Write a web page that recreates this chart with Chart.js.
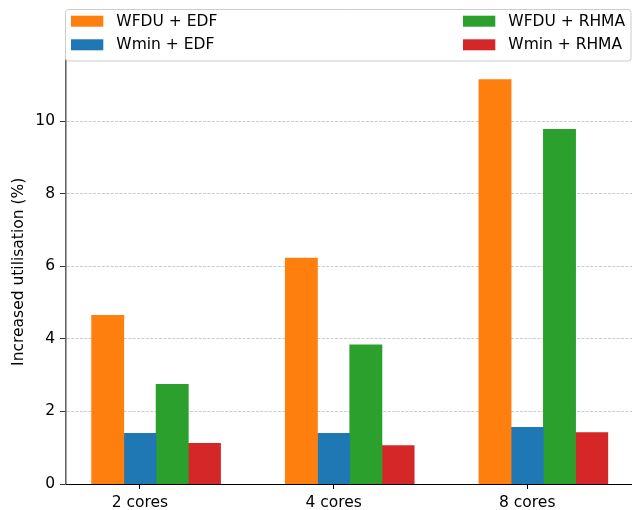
<!DOCTYPE html>
<html>
<head>
<meta charset="utf-8">
<title>Increased utilisation by core count</title>
<script src="https://cdn.jsdelivr.net/npm/chart.js@4.4.1/dist/chart.umd.min.js"></script>
<style>
  html, body { margin: 0; padding: 0; background: #ffffff; overflow: hidden; }
  #wrap { width: 632px; height: 510px; }
  canvas { display: block; }
</style>
</head>
<body>
<div id="wrap"><canvas id="chart" width="632" height="510"></canvas></div>
<script>
// Core-count groups along the x axis
const categories = ['2 cores', '4 cores', '8 cores'];

// Series names
const seriesNames = ['WFDU + EDF', 'Wmin + EDF', 'WFDU + RHMA', 'Wmin + RHMA'];

// Increased utilisation (%) per series, one value per core-count group
const wfduEdf  = [4.65, 6.23, 11.15];
const wminEdf  = [1.40, 1.40, 1.56];
const wfduRhma = [2.75, 3.84, 9.78];
const wminRhma = [1.12, 1.06, 1.42];

// Y axis tick values
const yTicks = [0, 2, 4, 6, 8, 10];

const seriesValues = [wfduEdf, wminEdf, wfduRhma, wminRhma];
const seriesColors = ['#ff7f0e', '#1f77b4', '#2ca02c', '#d62728'];

// Bar width in category units; bars sit at offsets -1, 0, +1, +2 widths from the tick
const barWidth = 0.1665;
const barOffsets = [-1, 0, 1, 2];

const FONT = "'DejaVu Sans', 'Liberation Sans', sans-serif";
const FONT_SIZE = 15.5;

const datasets = seriesValues.map((vals, s) => ({
  label: seriesNames[s],
  data: vals.map((v, i) => ({ x: i + barOffsets[s] * barWidth, y: v })),
  backgroundColor: seriesColors[s],
  borderWidth: 0,
  grouped: false,
  categoryPercentage: 1.0,
  barPercentage: 1.0
}));

// Two-column framed legend spanning the top of the plot
const frameLegend = {
  id: 'frameLegend',
  afterDraw(chart) {
    const ctx = chart.ctx;
    const x0 = 65.5, y0 = 9.5, x1 = 631, y1 = 61, r = 3;
    ctx.save();
    ctx.beginPath();
    ctx.moveTo(x0 + r, y0);
    ctx.lineTo(x1 - r, y0);
    ctx.quadraticCurveTo(x1, y0, x1, y0 + r);
    ctx.lineTo(x1, y1 - r);
    ctx.quadraticCurveTo(x1, y1, x1 - r, y1);
    ctx.lineTo(x0 + r, y1);
    ctx.quadraticCurveTo(x0, y1, x0, y1 - r);
    ctx.lineTo(x0, y0 + r);
    ctx.quadraticCurveTo(x0, y0, x0 + r, y0);
    ctx.closePath();
    ctx.fillStyle = 'rgba(255,255,255,0.85)';
    ctx.fill();
    ctx.strokeStyle = '#cccccc';
    ctx.lineWidth = 1;
    ctx.stroke();

    const colX = [71, 463];
    const rowY = [15.7, 39.3];
    const swW = 32.3, swH = 11;
    ctx.font = FONT_SIZE + 'px ' + FONT;
    ctx.textBaseline = 'middle';
    ctx.textAlign = 'left';
    chart.data.datasets.forEach((ds, i) => {
      const col = Math.floor(i / 2), row = i % 2;
      const sx = colX[col], sy = rowY[row];
      ctx.fillStyle = ds.backgroundColor;
      ctx.fillRect(sx, sy, swW, swH);
      ctx.fillStyle = '#000000';
      ctx.fillText(ds.label, sx + swW + 13, sy + swH / 2 + 0.5);
    });
    ctx.restore();
  }
};

new Chart(document.getElementById('chart'), {
  type: 'bar',
  data: { datasets },
  options: {
    responsive: false,
    devicePixelRatio: 1,
    animation: false,
    layout: { padding: { top: 59.6, right: 0, bottom: 0, left: 0 } },
    plugins: {
      legend: { display: false },
      tooltip: { enabled: false }
    },
    scales: {
      x: {
        type: 'linear',
        offset: false,
        min: -0.382,
        max: 2.541,
        afterBuildTicks(scale) {
          scale.ticks = categories.map((_, i) => ({ value: i }));
        },
        afterFit(scale) { scale.height = 26; },
        ticks: {
          autoSkip: false,
          maxRotation: 0,
          padding: 5,
          color: '#000000',
          font: { family: FONT, size: FONT_SIZE },
          callback: (v) => categories[v]
        },
        grid: {
          offset: false,
          drawOnChartArea: false,
          drawTicks: true,
          tickLength: 5,
          tickColor: '#000000',
          tickWidth: 1
        },
        border: { display: true, color: '#000000', width: 1 }
      },
      y: {
        type: 'linear',
        min: 0,
        max: 11.7,
        z: 1,
        afterBuildTicks(scale) {
          scale.ticks = yTicks.map(v => ({ value: v }));
        },
        afterFit(scale) { scale.width = 66; },
        ticks: {
          padding: 5,
          color: '#000000',
          font: { family: FONT, size: FONT_SIZE }
        },
        grid: {
          color: 'rgba(170,170,170,0.75)',
          lineWidth: 0.8,
          drawTicks: true,
          tickLength: 6,
          tickColor: '#333333',
          tickWidth: 1,
          tickBorderDash: []
        },
        border: { display: true, color: 'rgba(0,0,0,0.6)', width: 1.6, dash: [3, 1.4] },
        title: {
          display: true,
          text: 'Increased utilisation (%)',
          color: '#000000',
          font: { family: FONT, size: FONT_SIZE },
          padding: { top: 10, bottom: 0 }
        }
      }
    }
  },
  plugins: [frameLegend]
});
</script>
</body>
</html>
